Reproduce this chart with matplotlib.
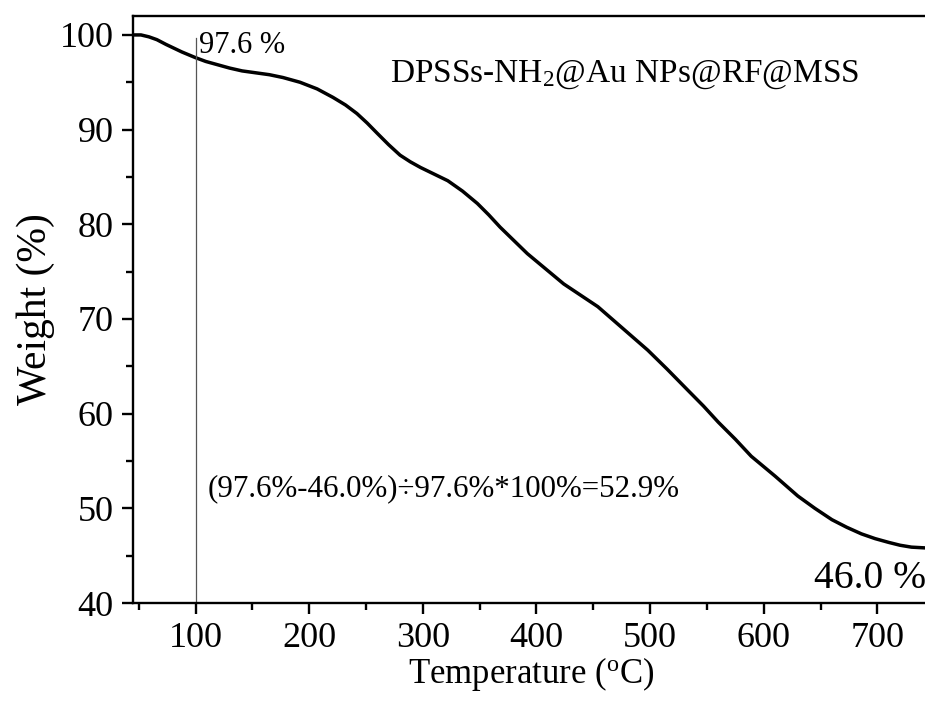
import numpy as np
import matplotlib.pyplot as plt
from matplotlib.ticker import MultipleLocator

plt.rcParams['font.family'] = 'Liberation Serif'
plt.rcParams['mathtext.fontset'] = 'custom'
plt.rcParams['mathtext.rm'] = 'Liberation Serif'
plt.rcParams['mathtext.it'] = 'Liberation Serif:italic'

# TGA curve
temp = [45, 52, 59, 66, 74, 81, 88, 94, 100, 109, 118, 130, 141, 153, 165, 177,
        192, 207, 221, 232, 242, 251, 260, 270, 280, 289, 298, 310, 322, 335,
        348, 358, 368, 380, 392, 402, 412, 424, 439, 454, 476, 498, 515, 533,
        547, 560, 575, 589, 610, 630, 645, 660, 673, 686, 698, 710, 720, 730, 745]
weight = [100.0, 100.0, 99.8, 99.5, 99.0, 98.6, 98.2, 97.9, 97.6, 97.2, 96.9,
          96.5, 96.2, 96.0, 95.8, 95.5, 95.0, 94.3, 93.4, 92.6, 91.7, 90.7, 89.6,
          88.4, 87.3, 86.6, 86.0, 85.3, 84.6, 83.5, 82.2, 81.0, 79.7, 78.3, 76.9,
          75.9, 74.9, 73.7, 72.5, 71.3, 69.0, 66.7, 64.7, 62.5, 60.8, 59.1, 57.3,
          55.5, 53.4, 51.3, 50.0, 48.8, 48.0, 47.3, 46.8, 46.4, 46.1, 45.9, 45.8]

fig = plt.figure(figsize=(9.25, 7.08), dpi=100)
ax = fig.add_axes([0.1438, 0.1483, 0.86, 0.8291])

ax.plot(temp, weight, color='black', lw=2.5, solid_joinstyle='round')
ax.plot([100, 100], [99.7, 40], color='#555555', lw=0.9)

ax.set_xlim(45, 745)
ax.set_ylim(40, 102)
ax.xaxis.set_major_locator(MultipleLocator(100))
ax.xaxis.set_minor_locator(MultipleLocator(50))
ax.yaxis.set_major_locator(MultipleLocator(10))
ax.yaxis.set_minor_locator(MultipleLocator(5))
ax.tick_params(which='both', direction='out', width=1.7, labelsize=26, top=False, right=False)
ax.tick_params(which='major', length=8, pad=6)
ax.tick_params(which='minor', length=5)
for s in ax.spines.values():
    s.set_linewidth(1.7)

ax.set_xlabel(r'Temperature ($^\mathrm{o}$C)', fontsize=25, labelpad=0)
ax.set_ylabel('Weight (%)', fontsize=30, labelpad=3)

ax.text(103, 98.1, '97.6 %', fontsize=22, va='baseline')
ax.text(271, 95.1, r'DPSSs-NH$_2$@Au NPs@RF@MSS', fontsize=24, va='baseline')
ax.text(110.6, 51.3, '(97.6%-46.0%)÷97.6%*100%=52.9%', fontsize=22.3, va='baseline')
ax.text(644, 41.6, '46.0 %', fontsize=28.5, va='baseline')

fig.savefig('out.png', dpi=100)
